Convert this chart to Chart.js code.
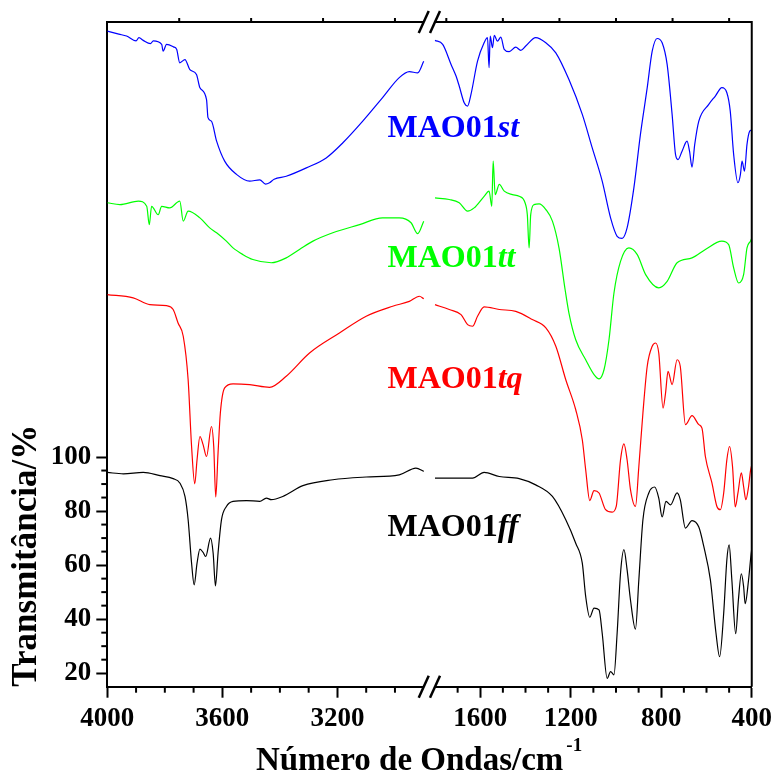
<!DOCTYPE html>
<html>
<head>
<meta charset="utf-8">
<script src="https://cdn.jsdelivr.net/npm/chart.js@4.4.1/dist/chart.umd.min.js"></script>
<style>
  html, body { margin: 0; padding: 0; background: #fff; }
  #wrap { width: 777px; height: 780px; }
</style>
</head>
<body>
<div id="wrap"><canvas id="spectra"></canvas></div>
<script>
// Broken axis: 4000-2900 on the left, 1800-400 on the right
const xMajor = [4000, 3600, 3200, 1600, 1200, 800, 400];
const xMinor = [3900, 3800, 3700, 3500, 3400, 3300, 3100, 3000, 1700, 1500, 1400, 1300, 1100, 1000, 900, 700, 600, 500];
const xTop = [3750, 3500, 3250, 3000, 1750, 1500, 1250, 1000, 750, 500];
const yMajor = [20, 40, 60, 80, 100];
const yMinor = [25, 30, 35, 45, 50, 55, 65, 70, 75, 85, 90, 95];

// MAO01st (blue)
const stWave = [4000, 3960, 3933, 3900, 3890, 3875, 3850, 3840, 3811, 3806, 3794, 3770, 3759, 3748, 3730, 3713, 3690, 3678, 3655, 3650, 3638, 3620, 3592, 3551, 3505, 3470, 3450, 3436, 3420, 3378, 3308, 3239, 3181, 3112, 3043, 2985, 2950, 2921, 2900,
  1800, 1766, 1729, 1707, 1693, 1671, 1656, 1641, 1612, 1583, 1568, 1561, 1556, 1546, 1538, 1524, 1509, 1494, 1472, 1443, 1421, 1399, 1355, 1310, 1266, 1208, 1149, 1105, 1061, 1024, 995, 973, 951, 921, 892, 862, 840, 818, 796, 774, 752, 737, 726, 708, 686, 675, 664, 652, 634, 590, 561, 532, 510, 495, 480, 461, 450, 443, 432, 421, 409, 400];
const stT = [257.6, 256.5, 255.8, 254.0, 255.2, 254.2, 253.0, 254.0, 252.7, 250.2, 252.7, 251.8, 250.9, 245.9, 247.1, 243.4, 241.6, 236.7, 232.3, 225.6, 224.3, 216.9, 209.5, 204.6, 202.1, 202.6, 201.0, 201.5, 202.8, 203.9, 207.0, 210.7, 216.3, 224.3, 233.0, 240.4, 242.6, 242.2, 246.5,
  254.2, 252.7, 245.3, 241.0, 237.3, 231.1, 229.9, 234.2, 246.5, 253.3, 255.2, 244.1, 255.8, 251.5, 256.1, 253.9, 255.4, 250.9, 250.0, 251.7, 250.5, 252.1, 255.2, 253.3, 249.6, 239.7, 226.8, 214.4, 202.1, 188.5, 181.7, 180.9, 184.8, 199.6, 219.4, 236.7, 250.2, 254.9, 253.3, 245.3, 226.8, 212.0, 210.1, 213.2, 216.9, 213.2, 207.3, 215.7, 224.3, 230.5, 233.6, 236.7, 234.8, 228.0, 212.0, 201.5, 204.6, 209.5, 205.8, 215.7, 220.6, 221.0];

// MAO01tt (green)
const ttWave = [4000, 3956, 3892, 3863, 3854, 3846, 3823, 3811, 3783, 3748, 3736, 3719, 3678, 3644, 3620, 3586, 3563, 3528, 3494, 3430, 3378, 3332, 3285, 3216, 3123, 3043, 2985, 2944, 2921, 2900,
  1800, 1737, 1693, 1656, 1627, 1583, 1561, 1549, 1543, 1534, 1516, 1494, 1458, 1428, 1402, 1392, 1384, 1377, 1362, 1340, 1310, 1281, 1252, 1225, 1208, 1178, 1134, 1097, 1075, 1053, 1031, 1009, 980, 943, 906, 869, 811, 774, 730, 664, 605, 532, 502, 480, 458, 436, 421, 406, 400];
const ttT = [194.1, 193.4, 194.7, 192.8, 186.0, 192.8, 189.7, 192.8, 192.2, 194.7, 187.3, 191.0, 188.5, 184.8, 183.0, 179.9, 177.4, 174.9, 173.1, 171.9, 173.7, 176.8, 179.9, 183.0, 186.0, 188.5, 188.5, 186.7, 182.7, 187.3,
  195.9, 195.3, 194.1, 191.0, 192.2, 196.5, 198.4, 192.8, 209.5, 197.1, 200.9, 198.4, 197.1, 196.5, 194.1, 189.7, 177.4, 189.7, 193.4, 193.7, 191.6, 187.3, 177.4, 162.0, 153.3, 143.4, 136.0, 130.5, 128.9, 132.3, 143.4, 160.7, 172.4, 177.4, 174.9, 167.5, 162.6, 165.0, 171.9, 173.7, 176.8, 179.9, 178.6, 170.0, 164.4, 167.5, 177.4, 179.9, 181.0];

// MAO01tq (red)
const tqWave = [4000, 3910, 3852, 3794, 3771, 3754, 3736, 3719, 3707, 3696, 3688, 3678, 3667, 3655, 3638, 3630, 3623, 3615, 3607, 3592, 3563, 3505, 3436, 3378, 3297, 3193, 3100, 3008, 2950, 2915, 2900,
  1800, 1737, 1685, 1656, 1634, 1612, 1583, 1516, 1443, 1370, 1310, 1266, 1222, 1178, 1149, 1134, 1116, 1097, 1075, 1046, 1017, 999, 980, 965, 951, 936, 914, 899, 881, 862, 840, 825, 811, 792, 781, 770, 752, 730, 716, 693, 664, 634, 620, 605, 576, 554, 539, 524, 510, 498, 485, 473, 461, 446, 436, 426, 414, 406, 400];
const tqT = [160.1, 158.9, 156.4, 156.0, 154.6, 149.6, 144.7, 128.6, 103.9, 90.1, 99.0, 107.6, 104.6, 100.2, 111.3, 103.9, 85.2, 101.5, 116.3, 125.6, 127.1, 126.8, 125.8, 129.9, 138.5, 145.9, 152.1, 155.8, 157.6, 159.5, 158.6,
  156.4, 154.6, 152.7, 149.0, 148.4, 152.1, 155.6, 154.6, 153.9, 150.9, 147.8, 141.0, 128.6, 117.5, 106.4, 95.3, 83.9, 87.6, 86.7, 80.5, 79.6, 81.7, 99.0, 104.9, 99.0, 87.9, 81.7, 96.5, 116.3, 133.6, 141.0, 142.2, 138.5, 118.1, 123.7, 131.7, 126.8, 136.0, 133.6, 112.0, 115.3, 112.0, 110.7, 100.2, 90.4, 81.7, 80.5, 86.7, 99.0, 103.9, 96.5, 81.5, 86.7, 94.1, 89.1, 84.2, 89.1, 94.7, 97.0];

// MAO01ff (black)
const ffWave = [4000, 3944, 3875, 3817, 3771, 3748, 3730, 3719, 3707, 3698, 3688, 3678, 3667, 3658, 3641, 3632, 3624, 3615, 3603, 3586, 3563, 3516, 3470, 3447, 3430, 3390, 3320, 3216, 3100, 2985, 2927, 2900,
  1800, 1722, 1634, 1583, 1516, 1428, 1355, 1281, 1222, 1178, 1149, 1134, 1116, 1097, 1075, 1061, 1039, 1024, 1009, 995, 980, 965, 951, 936, 914, 899, 881, 855, 829, 811, 796, 779, 759, 730, 716, 693, 664, 634, 612, 583, 558, 542, 524, 510, 500, 488, 471, 459, 446, 436, 429, 414, 404, 400];
const ffT = [94.3, 93.8, 94.3, 93.1, 92.0, 90.4, 85.4, 76.8, 60.7, 52.7, 60.7, 65.9, 64.7, 63.2, 70.0, 64.4, 52.3, 64.4, 76.8, 81.7, 83.6, 83.9, 83.6, 84.8, 84.2, 85.4, 89.4, 91.6, 92.6, 93.4, 95.9, 94.7,
  92.2, 92.2, 92.2, 94.3, 92.8, 92.0, 89.7, 85.4, 76.8, 68.1, 60.7, 48.4, 40.7, 44.1, 43.4, 34.8, 18.1, 20.6, 19.4, 34.8, 57.0, 65.7, 58.3, 47.1, 36.3, 54.6, 76.8, 86.7, 88.9, 84.8, 77.8, 83.6, 82.3, 86.7, 84.2, 73.7, 76.5, 74.1, 66.9, 54.6, 34.8, 26.1, 42.2, 62.0, 67.5, 54.6, 34.6, 47.1, 56.8, 52.1, 45.7, 54.6, 63.2, 66.0];

const seriesNames = ['MAO01', 'MAO01', 'MAO01', 'MAO01'];
const seriesSuffix = ['st', 'tt', 'tq', 'ff'];
const seriesColors = ['#0000ff', '#00ff00', '#ff0000', '#000000'];
// label anchors (wavenumber, transmittance of baseline)
const labelWave = 3026;
const labelT = [218.6, 170.5, 125.7, 70.9];

// map wavenumber to position on the broken axis (0..100)
function toU(w) {
  if (w >= 2900) return (4000 - w) / 1100 * 49.1;
  return 50.85 + (1800 - w) / 1400 * 49.15;
}

function makePoints(wave, vals) {
  const pts = [];
  for (let i = 0; i < wave.length; i++) {
    if (i > 0 && wave[i - 1] >= 2900 && wave[i] <= 1800) {
      pts.push({ x: (toU(2900) + toU(1800)) / 2, y: null });
    }
    pts.push({ x: toU(wave[i]), y: vals[i] });
  }
  return pts;
}

const FONT = '"Liberation Serif", "Times New Roman", serif';

const decorations = {
  id: 'decorations',
  afterDraw(chart) {
    const { ctx, chartArea: a, scales: { x, y } } = chart;
    const line = (x1, y1, x2, y2) => { ctx.beginPath(); ctx.moveTo(x1, y1); ctx.lineTo(x2, y2); ctx.stroke(); };
    ctx.save();
    ctx.strokeStyle = '#000';
    ctx.lineWidth = 2;
    // top and right frame
    ctx.beginPath();
    ctx.moveTo(a.left, a.top);
    ctx.lineTo(a.right, a.top);
    ctx.lineTo(a.right, a.bottom);
    ctx.stroke();
    // top ticks
    xTop.forEach(w => { const px = x.getPixelForValue(toU(w)); line(px, a.top, px, a.top - 4); });
    // minor ticks
    xMinor.forEach(w => { const px = x.getPixelForValue(toU(w)); line(px, a.bottom, px, a.bottom + 6); });
    yMinor.forEach(v => { const py = y.getPixelForValue(v); line(a.left, py, a.left - 6, py); });
    // axis break
    const b1 = x.getPixelForValue(toU(2900));
    const b2 = x.getPixelForValue(toU(1800));
    ctx.fillStyle = '#fff';
    ctx.lineWidth = 2.5;
    [a.top, a.bottom].forEach(yy => {
      ctx.fillRect(b1, yy - 2, b2 - b1, 4);
      [b1, b2].forEach(bx => line(bx - 5, yy + 11, bx + 5, yy - 11));
    });
    // x title with superscript
    ctx.fillStyle = '#000';
    ctx.textBaseline = 'alphabetic';
    ctx.textAlign = 'left';
    const main = 'Número de Ondas/cm';
    ctx.font = 'bold 33px ' + FONT;
    const mw = ctx.measureText(main).width;
    ctx.font = 'bold 19px ' + FONT;
    const sw = ctx.measureText('-1').width;
    const tx = (a.left + a.right) / 2 - 12 - (mw + sw) / 2;
    ctx.font = 'bold 33px ' + FONT;
    ctx.fillText(main, tx, 770);
    ctx.font = 'bold 19px ' + FONT;
    ctx.fillText('-1', tx + mw + 3, 751);
    // series labels
    const lx = x.getPixelForValue(toU(labelWave));
    seriesNames.forEach((name, i) => {
      const ly = y.getPixelForValue(labelT[i]);
      ctx.fillStyle = seriesColors[i];
      ctx.font = 'bold 32px ' + FONT;
      ctx.fillText(name, lx, ly);
      const nw = ctx.measureText(name).width;
      ctx.font = 'italic bold 32px ' + FONT;
      ctx.fillText(seriesSuffix[i], lx + nw, ly);
    });
    ctx.restore();
  }
};

const allWave = [stWave, ttWave, tqWave, ffWave];
const allT = [stT, ttT, tqT, ffT];

new Chart(document.getElementById('spectra'), {
  type: 'line',
  data: {
    datasets: allWave.map((w, i) => ({
      label: seriesNames[i] + seriesSuffix[i],
      data: makePoints(w, allT[i]),
      borderColor: seriesColors[i],
      borderWidth: 1.2,
      pointRadius: 0,
      cubicInterpolationMode: 'monotone',
      spanGaps: false,
      fill: false
    }))
  },
  options: {
    responsive: true,
    maintainAspectRatio: false,
    animation: false,
    events: [],
    layout: { padding: { top: 22, right: 24, left: 0, bottom: 0 } },
    plugins: { legend: { display: false }, tooltip: { enabled: false } },
    scales: {
      x: {
        type: 'linear',
        min: 0,
        max: 100,
        afterBuildTicks: scale => { scale.ticks = xMajor.map(w => ({ value: toU(w) })); },
        afterFit: scale => { scale.height = 93.3; },
        ticks: {
          autoSkip: false,
          maxRotation: 0,
          padding: 5,
          color: '#000',
          font: { family: FONT, size: 27, weight: 'bold' },
          callback: (v, i) => String(xMajor[i])
        },
        grid: { drawOnChartArea: false, drawTicks: true, tickLength: 11, tickWidth: 2, tickColor: '#000' },
        border: { display: true, color: '#000', width: 2 }
      },
      y: {
        min: 15,
        max: 261,
        afterBuildTicks: scale => { scale.ticks = yMajor.map(v => ({ value: v })); },
        afterFit: scale => { scale.width = 107.3; },
        ticks: {
          padding: 5,
          color: '#000',
          font: { family: FONT, size: 27, weight: 'bold' },
          callback: v => String(v)
        },
        grid: { drawOnChartArea: false, drawTicks: true, tickLength: 11, tickWidth: 2, tickColor: '#000' },
        border: { display: true, color: '#000', width: 2 },
        title: {
          display: true,
          text: 'Transmitância/%',
          align: 'start',
          color: '#000',
          padding: { top: 6, bottom: 0 },
          font: { family: FONT, size: 35, weight: 'bold' }
        }
      }
    }
  },
  plugins: [decorations]
});
</script>
</body>
</html>
